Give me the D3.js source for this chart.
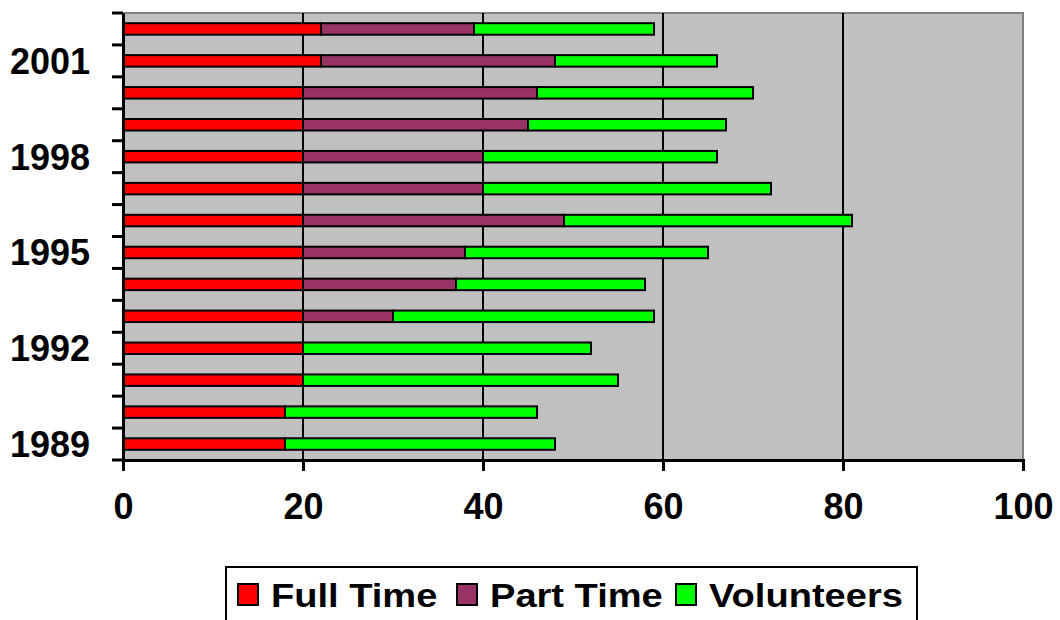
<!DOCTYPE html>
<html>
<head>
<meta charset="utf-8">
<script src="https://cdn.jsdelivr.net/npm/d3@7"></script>
<style>
  html, body { margin: 0; padding: 0; background: #fff; }
  svg { display: block; font-family: "Liberation Sans", Arial, sans-serif; font-weight: bold; }
</style>
</head>
<body>
<svg id="chart" width="1060" height="620"></svg>
<script>
const years = [1989, 1990, 1991, 1992, 1993, 1994, 1995, 1996, 1997, 1998, 1999, 2000, 2001, 2002];
const fullTime   = [18, 18, 20, 20, 20, 20, 20, 20, 20, 20, 20, 20, 22, 22];
const partTime   = [0, 0, 0, 0, 10, 17, 18, 29, 20, 20, 25, 26, 26, 17];
const volunteers = [30, 28, 35, 32, 29, 21, 27, 32, 32, 26, 22, 24, 18, 20];
const seriesNames = ["Full Time", "Part Time", "Volunteers"];
const seriesColors = ["#FF0000", "#993366", "#00FF00"];
const yearLabels = [1989, 1992, 1995, 1998, 2001];
const xTicks = [0, 20, 40, 60, 80, 100];

const rows = years.map((y, i) => ({
  year: y,
  "Full Time": fullTime[i],
  "Part Time": partTime[i],
  "Volunteers": volunteers[i]
}));

const svg = d3.select("#chart");
const plot = { left: 123, right: 1023, top: 13, bottom: 460 };

const x = d3.scaleLinear().domain([0, 100]).range([plot.left, plot.right]);
const y = d3.scaleBand().domain(years.slice().reverse()).range([plot.top, plot.bottom]).paddingInner(0.64).paddingOuter(0.32);
const yTickScale = d3.scaleBand().domain(years.slice().reverse()).range([plot.top, plot.bottom]);

// plot background
svg.append("rect")
  .attr("x", plot.left).attr("y", plot.top)
  .attr("width", plot.right - plot.left).attr("height", plot.bottom - plot.top)
  .attr("fill", "#C0C0C0").attr("stroke", "#808080").attr("stroke-width", 2);

// gridlines
svg.append("g").selectAll("line")
  .data(xTicks.filter(t => t > 0 && t < 100))
  .join("line")
  .attr("x1", d => x(d)).attr("x2", d => x(d))
  .attr("y1", plot.top).attr("y2", plot.bottom)
  .attr("stroke", "#000").attr("stroke-width", 2);

// bars
const stack = d3.stack().keys(seriesNames);
const stacked = stack(rows);
svg.append("g").selectAll("g")
  .data(stacked)
  .join("g")
  .attr("fill", (d, i) => seriesColors[i])
  .selectAll("rect")
  .data(d => d.filter(s => s[1] - s[0] > 0))
  .join("rect")
  .attr("x", d => x(d[0]))
  .attr("width", d => x(d[1]) - x(d[0]))
  .attr("y", d => y(d.data.year))
  .attr("height", y.bandwidth())
  .attr("stroke", "#000")
  .attr("stroke-width", 2);

// y axis
const yAxis = d3.axisLeft(yTickScale).tickSize(0).tickFormat("");
const yAxisG = svg.append("g").attr("transform", `translate(${plot.left},0)`).call(yAxis);
yAxisG.select(".domain").attr("stroke", "#000").attr("stroke-width", 3);
// ticks at category boundaries
const boundaries = years.map((yr, i) => yTickScale(yr)).concat([plot.bottom]);
svg.append("g").selectAll("line")
  .data(boundaries)
  .join("line")
  .attr("x1", plot.left - 11).attr("x2", plot.left)
  .attr("y1", d => d).attr("y2", d => d)
  .attr("stroke", "#000").attr("stroke-width", 3);
// y labels
svg.append("g").selectAll("text")
  .data(yearLabels)
  .join("text")
  .attr("x", 90)
  .attr("y", d => yTickScale(d) + yTickScale.bandwidth() / 2)
  .attr("dy", "0.36em")
  .attr("text-anchor", "end")
  .attr("font-size", 36)
  .attr("fill", "#000")
  .text(d => d);

// x axis
const xAxis = d3.axisBottom(x).tickValues(xTicks).tickSize(11).tickPadding(22).tickFormat(d3.format("d"));
const xAxisG = svg.append("g").attr("transform", `translate(0,${plot.bottom})`).call(xAxis);
xAxisG.select(".domain").attr("stroke", "#000").attr("stroke-width", 3);
xAxisG.selectAll(".tick line").attr("stroke", "#000").attr("stroke-width", 3);
xAxisG.selectAll(".tick text")
  .attr("font-size", 36).attr("font-family", "Liberation Sans, Arial, sans-serif")
  .attr("font-weight", "bold").attr("fill", "#000");

// legend
const legend = svg.append("g");
legend.append("rect")
  .attr("x", 226).attr("y", 567).attr("width", 691).attr("height", 60)
  .attr("fill", "#fff").attr("stroke", "#000").attr("stroke-width", 2);
const legendX = [238, 457, 676];
const items = legend.selectAll("g.item")
  .data(seriesNames)
  .join("g")
  .attr("class", "item")
  .attr("transform", (d, i) => `translate(${legendX[i]},584)`);
items.append("rect")
  .attr("width", 20).attr("height", 21)
  .attr("fill", (d, i) => seriesColors[i])
  .attr("stroke", "#000").attr("stroke-width", 2);
items.append("text")
  .attr("transform", "translate(33,10.5) scale(1.12,1)")
  .attr("dy", "0.36em")
  .attr("font-size", 34).attr("fill", "#000")
  .text(d => d);
</script>
</body>
</html>
